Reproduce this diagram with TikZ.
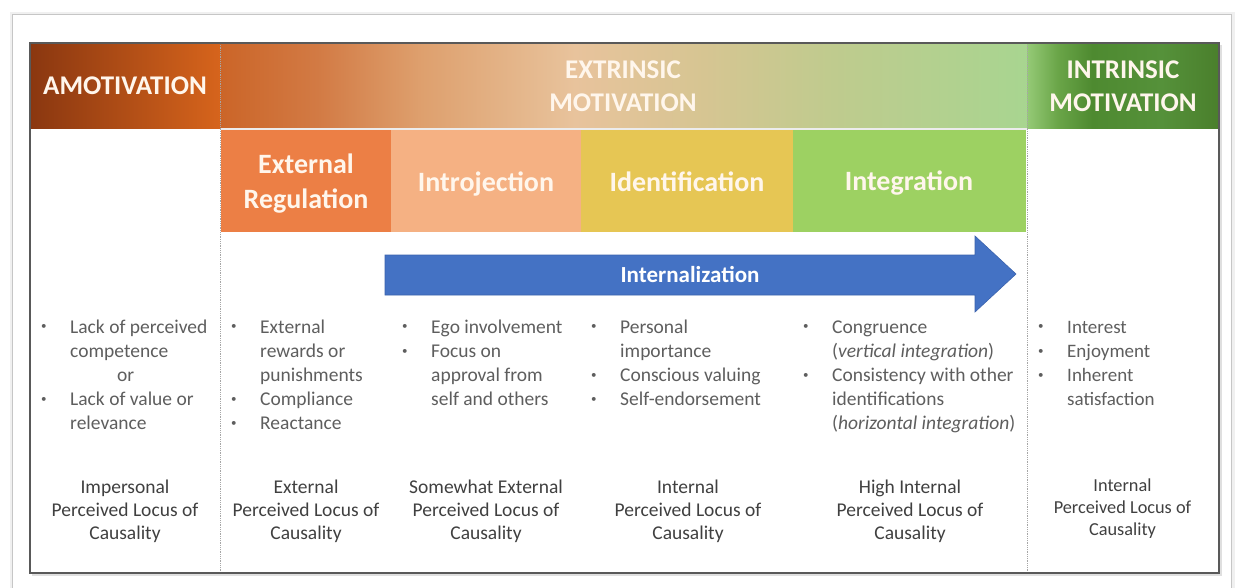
\documentclass[tikz,border=0pt]{standalone}
\usepackage{fontspec}
\setmainfont{Carlito}
\usetikzlibrary{calc}
\definecolor{txtgray}{HTML}{5E5E5E}
\definecolor{txtdark}{HTML}{404040}
\definecolor{hdrtxt}{HTML}{FFF6EC}
\definecolor{extreg}{HTML}{EC7F45}
\definecolor{introj}{HTML}{F5B183}
\definecolor{identc}{HTML}{E6C654}
\definecolor{integc}{HTML}{9DD162}
\definecolor{arrblue}{HTML}{4472C4}
\definecolor{arredge}{HTML}{3B63AD}
\definecolor{amoL}{HTML}{8A3710}
\definecolor{amoR}{HTML}{D6641C}
\definecolor{exA}{HTML}{CB6528}
\definecolor{exB}{HTML}{D27A44}
\definecolor{exC}{HTML}{DEA06E}
\definecolor{exD}{HTML}{E8C39C}
\definecolor{exE}{HTML}{D6C592}
\definecolor{exF}{HTML}{BFCB8E}
\definecolor{exG}{HTML}{A8D590}
\definecolor{inA}{HTML}{95CA76}
\definecolor{inB}{HTML}{6AA548}
\definecolor{inC}{HTML}{4E8A30}
\definecolor{inD}{HTML}{55913A}
\definecolor{inE}{HTML}{4A7F2C}
\pgfdeclarehorizontalshading{extrshade}{100bp}{%
  color(0bp)=(exA);
  color(25bp)=(exA);
  color(31bp)=(exB);
  color(37.5bp)=(exC);
  color(47bp)=(exD);
  color(55bp)=(exE);
  color(63bp)=(exF);
  color(75bp)=(exG);
  color(100bp)=(exG)}
\pgfdeclarehorizontalshading{intrshade}{100bp}{%
  color(0bp)=(inA);
  color(25bp)=(inA);
  color(33bp)=(inB);
  color(42bp)=(inC);
  color(60bp)=(inD);
  color(75bp)=(inE);
  color(100bp)=(inE)}
\newcommand\smbul{\raisebox{3.2pt}{\fontsize{11}{11}\selectfont\textbullet}}
\begin{document}
\begin{tikzpicture}[x=1pt,y=-1pt,
  hdrtext/.style={inner sep=0pt,text=hdrtxt,font=\fontsize{27}{33}\selectfont\bfseries},
  celltext/.style={inner sep=0pt,text=hdrtxt,font=\fontsize{28}{35}\selectfont\bfseries},
  listtext/.style={anchor=base west,inner sep=0pt,text=txtgray,font=\fontsize{19.5}{24.2}\selectfont},
  locustext/.style={anchor=base,inner sep=0pt,text=txtdark,font=\fontsize{19.5}{23}\selectfont},
  sepline/.style={gray!70,densely dotted,line width=0.8pt}]
\useasboundingbox (0,0) rectangle (1238,587);
\clip (0,0) rectangle (1238,587);
\fill[white] (0,0) rectangle (1238,587);
% outer panel
\fill[gray!12] (10,12) rectangle (1235,600);
\fill[white] (12,14) rectangle (1231,600);
\draw[gray!45,line width=0.8pt] (12,14) rectangle (1231,600);
% table shadow
\fill[gray!25] (32,45) rectangle (1222,576);
\fill[white] (30,43) rectangle (1219,573);
% header row
\shade[left color=amoL,right color=amoR] (30,43) rectangle (220,128);
\shade[shading=extrshade] (220,43) rectangle (1027,128);
\shade[shading=intrshade] (1027,43) rectangle (1219,128);
\draw[white!85!gray,line width=1.2pt] (220,129) -- (1027,129);
% second row cells
\fill[extreg] (221,130) rectangle (391,232);
\fill[introj] (391,130) rectangle (581,232);
\fill[identc] (581,130) rectangle (793,232);
\fill[integc] (793,130) rectangle (1026,232);
% separators
\draw[sepline] (220,43) -- (220,573);
\draw[sepline] (1027,43) -- (1027,573);
% table border
\draw[black!65,line width=1.3pt] (30,43) rectangle (1219,573);
% header texts
\node[hdrtext] (amo) at (125,86) {AMOTIVATION};
\node[hdrtext,anchor=base] (extr) at (623,78.5) {\begin{tabular}[t]{@{}c@{}}EXTRINSIC\\MOTIVATION\end{tabular}};
\node[hdrtext,anchor=base] (intr) at (1123,78.5) {\begin{tabular}[t]{@{}c@{}}INTRINSIC\\MOTIVATION\end{tabular}};
% second row texts
\node[celltext,anchor=base] (ereg) at (306,173) {\begin{tabular}[t]{@{}c@{}}External\\Regulation\end{tabular}};
\node[celltext,anchor=base] (intro) at (486,191) {Introjection};
\node[celltext,anchor=base] (ident) at (687,191) {Identification};
\node[celltext,anchor=base] (integ) at (909,190) {Integration};
% internalization arrow
\draw[fill=arrblue,draw=arredge,line width=0.6pt]
  (385,255) -- (975,255) -- (975,236) -- (1016,274) -- (975,312) -- (975,295) -- (385,295) -- cycle;
\node[inner sep=0pt,anchor=base,text=white,font=\fontsize{23}{28}\selectfont\bfseries] (intern) at (690,282) {Internalization};
% lists
\node[listtext] (l1) at (41,333) {\begin{tabular}[t]{@{}p{29pt}@{}l@{}}
\smbul & Lack of perceived\\
 & competence\\
\multicolumn{2}{@{}l@{}}{\hspace{76pt}or}\\
\smbul & Lack of value or\\
 & relevance\end{tabular}};
\node[listtext] (l2) at (231,333) {\begin{tabular}[t]{@{}p{29pt}@{}l@{}}
\smbul & External\\
 & rewards or\\
 & punishments\\
\smbul & Compliance\\
\smbul & Reactance\end{tabular}};
\node[listtext] (l3) at (402,333) {\begin{tabular}[t]{@{}p{29pt}@{}l@{}}
\smbul & Ego involvement\\
\smbul & Focus on\\
 & approval from\\
 & self and others\end{tabular}};
\node[listtext] (l4) at (591,333) {\begin{tabular}[t]{@{}p{29pt}@{}l@{}}
\smbul & Personal\\
 & importance\\
\smbul & Conscious valuing\\
\smbul & Self-endorsement\end{tabular}};
\node[listtext] (l5) at (803,333) {\begin{tabular}[t]{@{}p{29pt}@{}l@{}}
\smbul & Congruence\\
 & (\textit{vertical integration})\\
\smbul & Consistency with other\\
 & identifications\\
 & (\textit{horizontal integration})\end{tabular}};
\node[listtext,font=\fontsize{19}{24.2}\selectfont] (l6) at (1038,333) {\begin{tabular}[t]{@{}p{29pt}@{}l@{}}
\smbul & Interest\\
\smbul & Enjoyment\\
\smbul & Inherent\\
 & satisfaction\end{tabular}};
% locus texts
\node[locustext] (c1) at (125,493) {\begin{tabular}[t]{@{}c@{}}Impersonal\\Perceived Locus of\\Causality\end{tabular}};
\node[locustext] (c2) at (306,493) {\begin{tabular}[t]{@{}c@{}}External\\Perceived Locus of\\Causality\end{tabular}};
\node[locustext] (c3) at (486,493) {\begin{tabular}[t]{@{}c@{}}Somewhat External\\Perceived Locus of\\Causality\end{tabular}};
\node[locustext] (c4) at (688,493) {\begin{tabular}[t]{@{}c@{}}Internal\\Perceived Locus of\\Causality\end{tabular}};
\node[locustext] (c5) at (910,493) {\begin{tabular}[t]{@{}c@{}}High Internal\\Perceived Locus of\\Causality\end{tabular}};
\node[locustext,font=\fontsize{18.3}{22}\selectfont] (c6) at (1122.5,491) {\begin{tabular}[t]{@{}c@{}}Internal\\Perceived Locus of\\Causality\end{tabular}};
\end{tikzpicture}
\end{document}
